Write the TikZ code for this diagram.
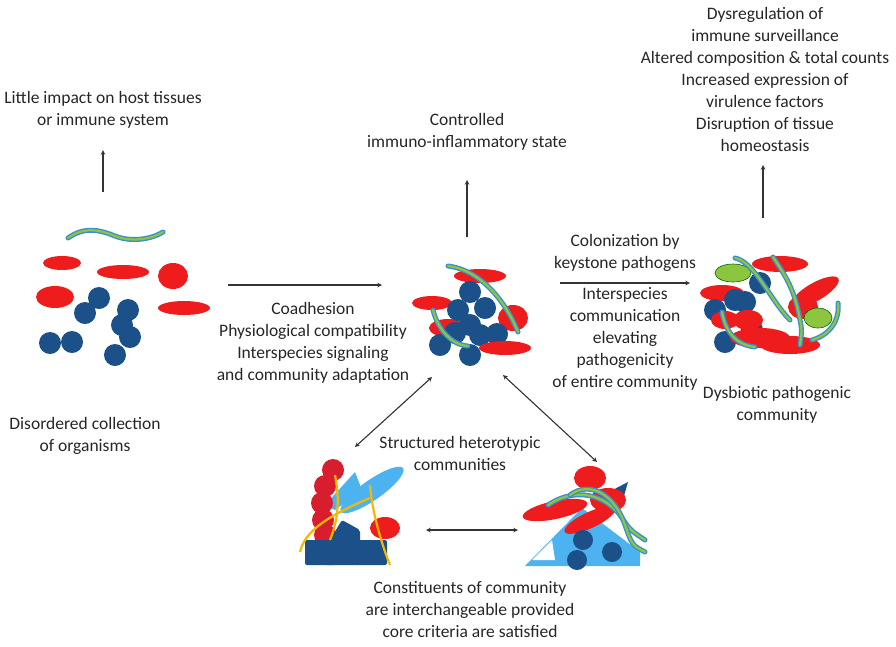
\documentclass[tikz,border=0pt]{standalone}
\usepackage{fontspec}
\setmainfont{Carlito}
\begin{document}
\definecolor{rd}{HTML}{EE1C1C}
\definecolor{bl}{HTML}{1B5188}
\definecolor{gr}{HTML}{8CC63F}
\definecolor{wb}{HTML}{3B8FD0}
\definecolor{lb}{HTML}{4DB3F0}
\definecolor{ye}{HTML}{F5B800}
\definecolor{dr}{HTML}{D81E2E}
\begin{tikzpicture}[x=1pt,y=-1pt,
  txt/.style={align=center,font=\fontsize{17.5}{22}\selectfont,text=black!85},
  arr/.style={->,>=stealth,line width=1.1pt,black!80},
  darr/.style={<->,>=stealth,line width=1.1pt,black!80},
  R/.style={fill=rd},B/.style={fill=bl},G/.style={fill=gr,draw=green!40!black,line width=0.6pt},
  worm/.style={draw=gr,line width=2.2pt,line cap=round,preaction={draw=wb,line width=5pt,line cap=round}}]
\useasboundingbox (0,0) rectangle (896,646);
% ---------- left cluster
\draw[worm] (68,238) .. controls (85,226) and (100,230) .. (115,236) .. controls (130,242) and (150,240) .. (163,232);
\fill[R] (62,263) ellipse (19 and 7);
\fill[R] (123,272) ellipse (26 and 7);
\fill[R] (173,276) ellipse (15 and 13);
\fill[R] (55,297) ellipse (19 and 11);
\fill[R] (184,308) ellipse (26 and 7);
\foreach \p in {(99,298),(85,313),(128,310),(122,325),(130,337),(50,343),(72,342),(115,355)} \fill[B] \p circle (11);
% ---------- middle cluster
\fill[R] (480,276) ellipse (26 and 7);
\fill[R] (432,303) ellipse (20 and 7);
\fill[R] (513,318) ellipse (15 and 13);
\fill[R] (448,328) ellipse (19 and 9);
\foreach \p in {(470,292),(485,308),(458,310),(470,325),(497,334),(440,345),(470,355),(480,335),(455,333)} \fill[B] \p circle (11);
\fill[R] (505,348) ellipse (26 and 7);
\draw[worm] (448,266) .. controls (480,270) and (505,300) .. (518,332);
\draw[worm] (433,310) .. controls (438,330) and (452,345) .. (468,346);
% ---------- right cluster
\fill[R] (780,264) ellipse (28 and 8);
\fill[R,rotate around={30:(815,292)}] (815,292) ellipse (27 and 9);
\fill[R] (722,293) ellipse (22 and 8);
\foreach \p in {(760,283),(745,302),(715,310),(752,330),(725,342),(735,300)} \fill[B] \p circle (11);
\fill[R] (748,320) ellipse (15 and 10);
\fill[R] (725,320) ellipse (14 and 9);
\fill[R] (760,338) ellipse (30 and 10);
\fill[R] (790,345) ellipse (30 and 9);
\fill[R] (803,307) ellipse (15 and 12);
\fill[G] (733,273) ellipse (18 and 9);
\fill[G] (818,318) ellipse (14 and 10);
\draw[worm] (735,258) .. controls (755,262) and (770,300) .. (790,320);
\draw[worm] (773,257) .. controls (785,275) and (795,290) .. (800,320) .. controls (802,330) .. (800,345);
\draw[worm] (722,312) .. controls (725,330) and (735,345) .. (755,347);
\draw[worm] (838,303) .. controls (840,320) and (830,335) .. (812,340);
% ---------- bottom left
\fill[lb,rotate around={35:(372,490)}] (372,490) ellipse (38 and 10);
\fill[lb] (325,505) -- (355,472) -- (362,490) -- (335,510) -- cycle;
\foreach \p in {(333,470),(325,486),(322,503),(323,520),(325,535)} \fill[dr] \p circle (11);
\fill[bl,rounded corners=2pt] (305,540) rectangle (335,565);
\fill[bl,rounded corners=2pt] (325,548) -- (342,520) -- (360,530) -- (360,565) -- (325,565) -- cycle;
\fill[bl,rounded corners=2pt] (355,540) rectangle (387,565);
\fill[rd] (385,528) ellipse (15 and 11);
\draw[ye,line width=2.2pt] (300,552) .. controls (305,530) and (330,515) .. (370,498);
\draw[ye,line width=2.2pt] (370,485) .. controls (372,510) and (380,540) .. (390,565);
\draw[ye,line width=2.2pt] (335,475) .. controls (340,500) and (338,520) .. (330,540);
% ---------- bottom right
\fill[lb] (525,566) -- (582,508) -- (640,552) -- (640,566) -- cycle;
\fill[white] (532,560) -- (552,540) -- (555,560) -- cycle;
\fill[bl] (603,495) -- (628,482) -- (620,510) -- cycle;
\fill[rd] (590,478) ellipse (16 and 12);
\fill[rd] (608,500) ellipse (18 and 12);
\fill[rd,rotate around={12:(555,510)}] (555,510) ellipse (33 and 9);
\fill[rd,rotate around={25:(590,520)}] (590,520) ellipse (28 and 8);
\foreach \p in {(583,540),(612,552),(577,560)} \fill[bl] \p circle (10);
\draw[worm] (548,505) .. controls (570,490) and (600,490) .. (620,515) .. controls (630,530) .. (645,540);
\draw[worm] (570,495) .. controls (590,480) and (615,495) .. (625,525) .. controls (632,545) .. (645,552);
% ---------- texts
\node[txt] (t1) at (103,110) {Little impact on host tissues\\or immune system};
\node[txt] (t2) at (467,132) {Controlled\\immuno-inflammatory state};
\node[txt] (t3) at (765,79) {Dysregulation of\\immune surveillance\\Altered composition \& total counts\\Increased expression of\\virulence factors\\Disruption of tissue\\homeostasis};
\node[txt] (t4) at (313,343) {Coadhesion\\Physiological compatibility\\Interspecies signaling\\and community adaptation};
\node[txt] (t5) at (625,253) {Colonization by\\keystone pathogens};
\node[txt] (t6) at (625,339) {Interspecies\\communication\\elevating\\pathogenicity\\of entire community};
\node[txt] (t7) at (777,405) {Dysbiotic pathogenic\\community};
\node[txt] (t8) at (85,436) {Disordered collection\\of organisms};
\node[txt] (t9) at (460,453) {Structured heterotypic\\communities};
\node[txt] (t10) at (470,610) {Constituents of community\\are interchangeable provided\\core criteria are satisfied};
% ---------- arrows
\coordinate (a1) at (103,192); \coordinate (b1) at (103,150);
\coordinate (a2) at (467,237); \coordinate (b2) at (467,180);
\coordinate (a3) at (763,218); \coordinate (b3) at (763,165);
\coordinate (a4) at (228,285); \coordinate (b4) at (382,285);
\coordinate (a5) at (560,283); \coordinate (b5) at (690,283);
\coordinate (a6) at (432,377); \coordinate (b6) at (355,447);
\coordinate (a7) at (503,375); \coordinate (b7) at (597,462);
\coordinate (a8) at (426,530); \coordinate (b8) at (518,530);
\draw[arr] (a1) -- (b1);
\draw[arr] (a2) -- (b2);
\draw[arr] (a3) -- (b3);
\draw[arr] (a4) -- (b4);
\draw[arr] (a5) -- (b5);
\draw[darr] (a6) -- (b6);
\draw[darr] (a7) -- (b7);
\draw[darr] (a8) -- (b8);
\end{tikzpicture}
\end{document}
